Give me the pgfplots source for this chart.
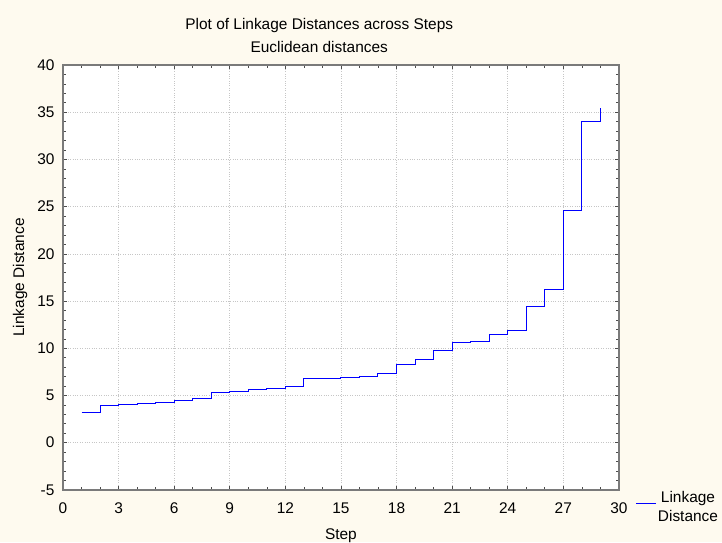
\documentclass[border=0pt]{standalone}
\usepackage{fontspec}
\setmainfont{Liberation Sans}
\usepackage{pgfplots}
\pgfplotsset{compat=1.18}
\definecolor{cream}{HTML}{FEFAEF}
\definecolor{axgray}{HTML}{7A7A7A}
\begin{document}
\begin{tikzpicture}
\fill[cream] (0,0) rectangle (722bp,542bp);
\begin{axis}[
  at={(63bp,52bp)}, anchor=south west,
  scale only axis, width=556bp, height=425bp,
  xmin=0, xmax=30, ymin=-5, ymax=40,
  xtick={0,3,...,30}, minor x tick num=2,
  ytick={-5,0,...,40}, minor y tick num=4,
  tick align=inside,
  major tick length=4bp, minor tick length=3bp,
  tick style={black!70, line width=0.6bp},
  axis line style={axgray, line width=1.6bp},
  axis background/.style={fill=white},
  grid=major,
  major grid style={dotted, gray!45, line width=0.6bp},
  font=\fontsize{15.5}{18}\selectfont,
  /pgf/number format/assume math mode=true,
  xticklabel style={yshift=-9bp},
  yticklabel style={xshift=-5bp},
  title={Plot of Linkage Distances across Steps\\Euclidean distances},
  title style={align=center, font=\fontsize{15.5}{23}\selectfont, at={(axis description cs:0.461,1.097)}, anchor=north, inner sep=0pt},
  xlabel={Step},
  xlabel style={at={(axis description cs:0.5,-0.108)}, anchor=center, inner sep=0pt},
  ylabel={Linkage Distance},
  ylabel style={at={(axis description cs:-0.077,0.5)}, anchor=center, inner sep=0pt},
  legend style={at={(axis description cs:1.025,0.005)}, anchor=north west, draw=none, fill=none, nodes={align=center, inner sep=1bp}, font=\fontsize{15.5}{19}\selectfont},
  legend image code/.code={\draw[#1, blue, line width=1bp] (0bp,0.3em) -- (20bp,0.3em);},
]
\addplot[const plot, blue, line width=1bp] coordinates {
(1,3.15) (2,3.95) (3,4.06) (4,4.16) (5,4.27) (6,4.48) (7,4.69) (8,5.31)
(9,5.42) (10,5.60) (11,5.70) (12,5.98) (13,6.83) (14,6.84) (15,6.90)
(16,7.03) (17,7.35) (18,8.25) (19,8.78) (20,9.80) (21,10.56) (22,10.70)
(23,11.50) (24,11.86) (25,14.38) (26,16.17) (27,24.54) (28,34.06) (29,35.40)
};
\addlegendentry{Linkage\\Distance}
\end{axis}
\end{tikzpicture}
\end{document}
